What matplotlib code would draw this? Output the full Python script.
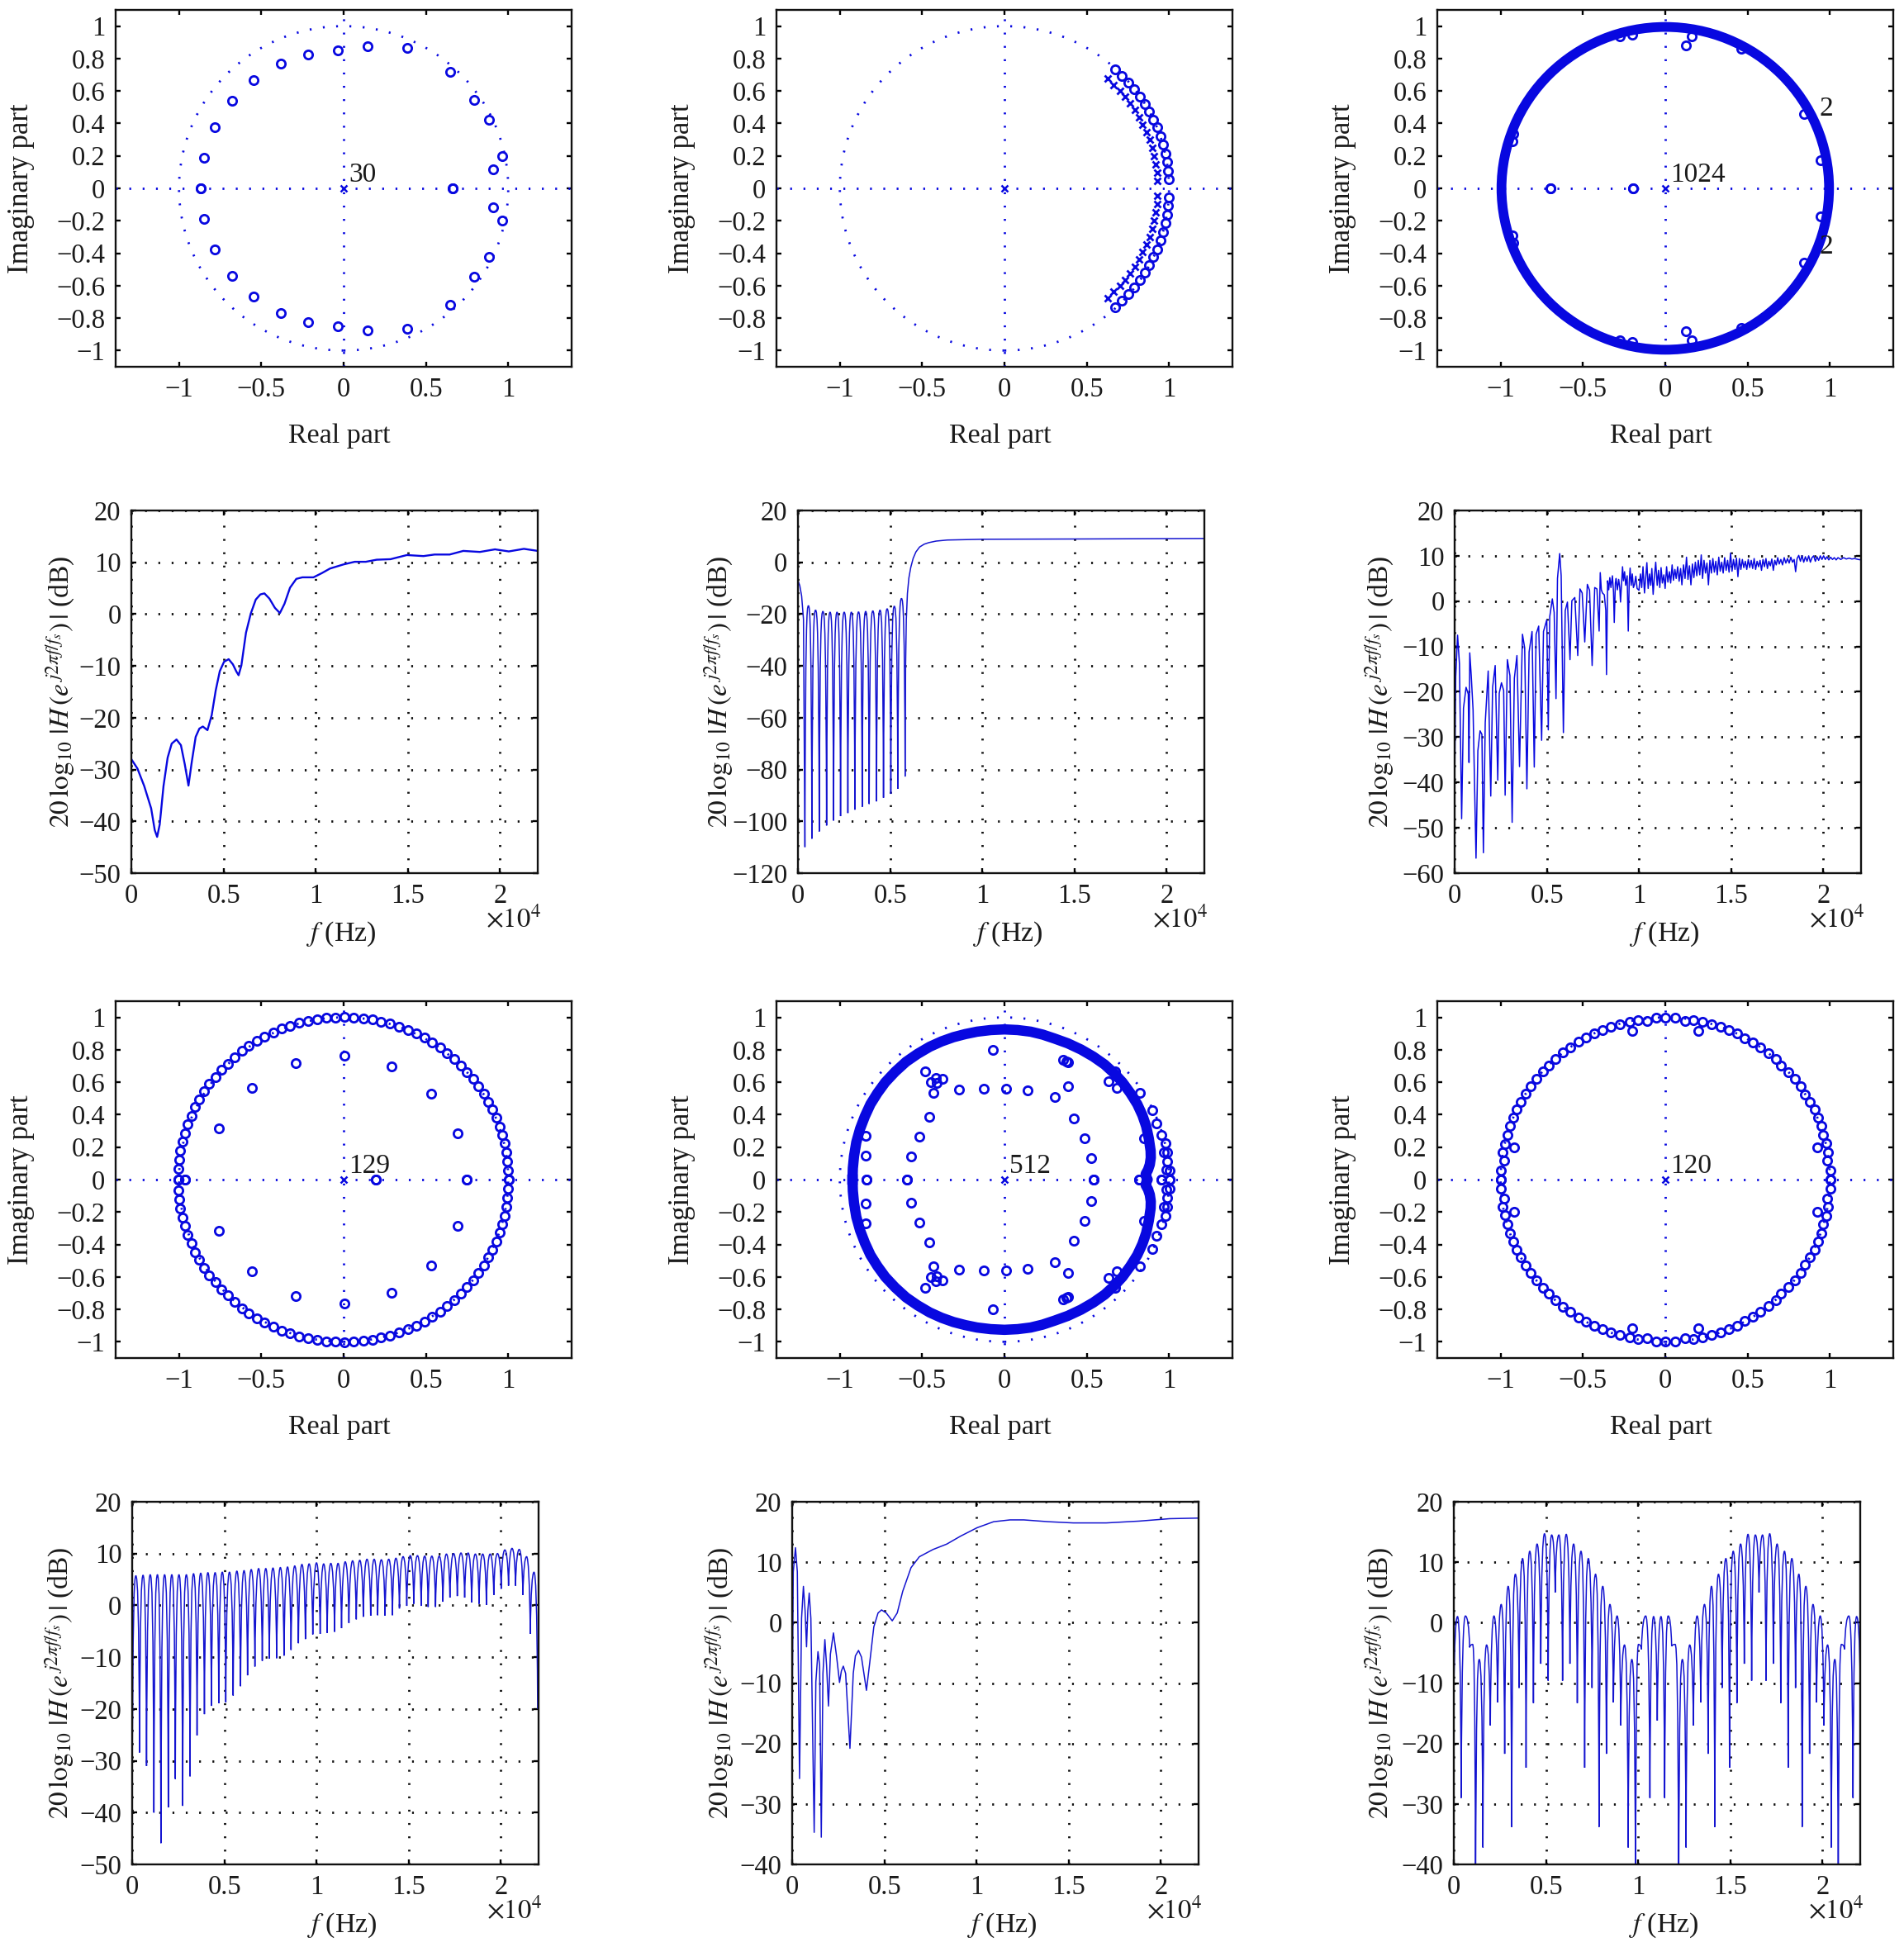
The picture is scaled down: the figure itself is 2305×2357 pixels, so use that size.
import numpy as np
import matplotlib
matplotlib.use("Agg")
import matplotlib.pyplot as plt
from matplotlib.patches import Ellipse, PathPatch
from matplotlib.path import Path

plt.rcParams['font.family'] = ['Liberation Serif', 'DejaVu Serif']
plt.rcParams['mathtext.fontset'] = 'stix'

BLUE = '#0808e0'
LINE_BLUE = '#1414d0'
TEXT = '#1a1a1a'
W, H = 2305, 2357

# pole-zero plots: upper half only, the lower half is the conjugate
p1_x = [0.144, 0.385, 0.649, 0.795, 0.883, 0.961, 0.907, 0.661, -0.037, -0.217, -0.38, -0.546, -0.678, -0.785, -0.849, -0.868]
p1_y = [0.875, 0.864, 0.717, 0.543, 0.422, 0.197, 0.118, 0.0, 0.851, 0.826, 0.77, 0.667, 0.54, 0.375, 0.19, 0.0]

p2_x = [0.674, 0.714, 0.755, 0.790, 0.823, 0.852, 0.879, 0.904, 0.926, 0.946, 0.965, 0.977, 0.987, 0.993, 0.997]
p2_y = [0.731, 0.691, 0.651, 0.610, 0.565, 0.520, 0.472, 0.423, 0.375, 0.321, 0.269, 0.216, 0.162, 0.107, 0.054]
p2_pole_x = [0.625, 0.664, 0.701, 0.733, 0.765, 0.793, 0.817, 0.840, 0.861, 0.881, 0.896, 0.906, 0.918, 0.926, 0.929]
p2_pole_y = [0.676, 0.637, 0.602, 0.564, 0.523, 0.482, 0.440, 0.393, 0.346, 0.299, 0.251, 0.199, 0.149, 0.099, 0.048]

p3_ring_r = 0.995
p3_x = [-0.696, -0.194, 0.124, 0.161, 0.843, 0.945, -0.203, -0.274, 0.461, -0.922, -0.928]
p3_y = [0.0, 0.0, 0.882, 0.939, 0.457, 0.173, 0.948, 0.939, 0.863, 0.338, 0.291]

p4_x = [1.003, 1.001, 0.995, 0.988, 0.979, 0.963, 0.947, 0.929, 0.903, 0.880, 0.851, 0.820, 0.787, 0.749, 0.711, 0.671, 0.628, 0.585, 0.538,
        0.490, 0.440, 0.389, 0.337, 0.282, 0.228, 0.174, 0.118, 0.062, 0.005, -0.051, -0.107, -0.161, -0.215, -0.270, -0.324, -0.378, -0.429,
        -0.480, -0.529, -0.576, -0.619, -0.664, -0.704, -0.744, -0.780, -0.816, -0.847, -0.876, -0.903, -0.925, -0.947, -0.965, -0.979, -0.992,
        -0.999, -1.003, -1.003,
        0.005, -0.291, -0.556, -0.760, 0.293, 0.534, 0.693, -0.961, 0.194, 0.748]
p4_y = [0.0, 0.056, 0.112, 0.168, 0.222, 0.276, 0.327, 0.380, 0.432, 0.480, 0.529, 0.575, 0.619, 0.663, 0.703, 0.744, 0.781, 0.815, 0.846,
        0.875, 0.900, 0.922, 0.944, 0.961, 0.975, 0.986, 0.995, 1.0, 1.002, 1.0, 0.997, 0.990, 0.980, 0.966, 0.949, 0.931, 0.907,
        0.883, 0.854, 0.824, 0.793, 0.754, 0.715, 0.676, 0.634, 0.590, 0.544, 0.495, 0.446, 0.393, 0.339, 0.286, 0.234, 0.180,
        0.124, 0.064, 0.0,
        0.763, 0.717, 0.563, 0.317, 0.697, 0.529, 0.285, 0.0, 0.0, 0.0]

p5_ring_x = [-0.923, -0.921, -0.914, -0.9, -0.877, -0.848, -0.814, -0.772, -0.724, -0.664, -0.598, -0.528, -0.454, -0.382, -0.31, -0.238, -0.166, -0.083, 0.0,
             0.08, 0.159, 0.232, 0.303, 0.385, 0.465, 0.54, 0.609, 0.667, 0.717, 0.765, 0.807, 0.838, 0.861, 0.877, 0.888, 0.889, 0.883, 0.872, 0.858, 0.862, 0.870]
p5_ring_y = [0.0, 0.07, 0.144, 0.23, 0.313, 0.39, 0.465, 0.533, 0.6, 0.665, 0.726, 0.775, 0.819, 0.852, 0.878, 0.897, 0.912, 0.922, 0.926,
             0.922, 0.912, 0.894, 0.870, 0.84, 0.802, 0.758, 0.709, 0.655, 0.6, 0.533, 0.465, 0.397, 0.329, 0.253, 0.177, 0.135, 0.093, 0.06, 0.034, 0.015, 0.0]
p5_x = [-0.072, 0.357, 0.384, 0.378, 0.672, 0.631, 0.681, 0.825, 0.897, 0.924, 0.955, 0.978, 0.969, 0.991, 0.991, 0.984, 1.004, 1.004, 0.951, 0.818,
        0.387, 0.305, 0.142, 0.009, -0.124, -0.274, -0.375, -0.418, -0.413, -0.445, -0.432, -0.481, -0.456, -0.515, -0.568, -0.591,
        0.420, 0.486, 0.528, 0.542, 0.847, -0.841, -0.843, -0.840]
p5_y = [0.801, 0.738, 0.721, 0.726, 0.667, 0.608, 0.566, 0.535, 0.427, 0.346, 0.277, 0.223, 0.169, 0.169, 0.110, 0.063, 0.056, 0.0, 0.0, 0.0,
        0.574, 0.507, 0.549, 0.561, 0.561, 0.557, 0.620, 0.625, 0.596, 0.600, 0.537, 0.667, 0.387, 0.265, 0.142, 0.0,
        0.377, 0.255, 0.130, 0.0, 0.253, 0.269, 0.147, 0.0]

p6_x = [1.002, 1.004, 0.984, 0.991, 0.980, 0.960, 0.946, 0.928, 0.906, 0.879, 0.850, 0.821, 0.787, 0.749, 0.704, 0.670, 0.625, 0.579, 0.532,
        0.484, 0.435, 0.384, 0.334, 0.280, 0.226, 0.171, 0.119, 0.058, 0.002, -0.056, -0.112, -0.166, -0.218, -0.274, -0.330, -0.381, -0.431,
        -0.480, -0.529, -0.576, -0.621, -0.666, -0.706, -0.745, -0.783, -0.818, -0.848, -0.877, -0.903, -0.924, -0.942, -0.960, -0.975, -0.987,
        -0.980, -0.998, -1.0,
        -0.199, 0.199, -0.917, 0.921]
p6_y = [0.0, 0.056, 0.115, 0.169, 0.223, 0.277, 0.329, 0.382, 0.431, 0.478, 0.527, 0.576, 0.620, 0.664, 0.701, 0.745, 0.780, 0.816, 0.845,
        0.873, 0.900, 0.924, 0.941, 0.956, 0.975, 0.985, 0.978, 0.997, 0.997, 0.997, 0.978, 0.985, 0.973, 0.956, 0.941, 0.924, 0.900,
        0.875, 0.848, 0.816, 0.782, 0.745, 0.703, 0.666, 0.620, 0.574, 0.529, 0.480, 0.431, 0.380, 0.331, 0.277, 0.221, 0.166,
        0.115, 0.056, 0.0,
        0.916, 0.916, 0.199, 0.199]

# frequency responses read as lines
r1_f = [0, 330, 700, 1075, 1270, 1400, 1540, 1745, 1970, 2190, 2450, 2690, 2900, 3100, 3280, 3490, 3690, 3880, 4130, 4360, 4580, 4800, 5030, 5280, 5510, 5700, 5820, 5970,
        6220, 6480, 6750, 7000, 7220, 7490, 7790, 8060, 8310, 8610, 8950, 9280, 9880, 10330, 10780, 11520, 12120, 12720, 13310, 14060, 14950, 15850, 16450, 17270, 18010, 18910, 19730, 20480, 21300, 22050]
r1_db = [-28, -29.8, -33.2, -37.5, -41.7, -43, -40.6, -33.2, -27.7, -25, -24.2, -25.3, -29, -33.1, -28.5, -23.7, -22.1, -21.7, -22.4, -19.5, -14.7, -11, -9.2, -8.7, -9.7, -11.1, -11.8, -9.9,
         -3.6, 0.1, 2.8, 3.8, 4, 3, 1.2, 0.2, 2, 5.1, 6.8, 7.1, 7.1, 7.9, 8.8, 9.6, 10.1, 10.1, 10.5, 10.6, 11.4, 11.2, 11.5, 11.5, 12.2, 12, 12.5, 12.1, 12.6, 12.2]

r3_f = [0, 60, 160, 260, 380, 480, 620, 740, 780, 820, 900, 1000, 1160, 1260, 1380, 1480, 1560, 1660, 1820, 1960, 2060, 2200, 2340, 2420, 2540, 2660, 2740, 2860, 3000, 3120, 3240, 3380, 3520, 3680, 3800, 3920,
        4040, 4200, 4320, 4420, 4560, 4720, 4820, 5000, 5080, 5160, 5300, 5400, 5500, 5580, 5700, 5780, 5900, 6000, 6120, 6260, 6360, 6520, 6680, 6800, 6920, 7060, 7200, 7320, 7460, 7600, 7720, 7840,
        7900, 7960, 8020, 8120, 8200, 8240, 8300, 8360, 8420, 8480, 8560, 8620, 8660, 8720, 8760, 8830, 8900, 8960, 9000, 9060, 9110, 9160, 9220, 9280, 9360, 9420, 9470, 9520, 9580, 9640, 9700, 9760, 9830, 9900, 10000,
        10080, 10150, 10220, 10300, 10360, 10430, 10500, 10570, 10640, 10700, 10770, 10840, 10910, 10990, 11060, 11130, 11200, 11270, 11350, 11420, 11500, 11570, 11650, 11720, 11800, 11870, 11950,
        12020, 12100, 12180, 12260, 12330, 12420, 12500, 12580, 12660, 12740, 12820, 12900, 12980, 13060, 13140, 13220, 13300, 13380, 13450, 13530, 13610, 13690, 13770, 13850, 13930,
        14010, 14090, 14170, 14250, 14330, 14410, 14490, 14570, 14650, 14730, 14810, 14890, 14970, 15050, 15130, 15210, 15290, 15370, 15450, 15530, 15610, 15690, 15770, 15850, 15930,
        16010, 16090, 16170, 16250, 16330, 16410, 16490, 16570, 16650, 16730, 16810, 16890, 16970, 17050, 17130, 17210, 17290, 17370, 17450, 17530, 17610, 17700, 17790, 17880, 17970,
        18060, 18150, 18240, 18330, 18420, 18500, 18580, 18670, 18760, 18850, 18940, 19030, 19120, 19210, 19300, 19390, 19480, 19570, 19660, 19750, 19840, 19930,
        20020, 20110, 20200, 20300, 20400, 20500, 20600, 20700, 20800, 20950, 21100, 21250, 21400, 21550, 21700, 21900, 22050]
r3_db = [-40, -16.6, -7.5, -13.8, -48, -23.6, -19, -20.5, -35.6, -11.4, -16.4, -24, -56.7, -33, -28.6, -29.4, -55.5, -26.8, -15.4, -43, -19, -14.2, -39.5, -20.3, -18, -19.7, -42.8, -12.9, -16.4, -48.8, -17, -12, -36.5, -7.3, -10.3, -41.4,
         -11.2, -6.7, -36.6, -7.3, -5.5, -30.7, -6.7, -4.1, -28.4, -3.4, 0.5, -2.5, -21.5, 5, 10.5, 5.6, -29, -2.1, -0.2, -12.9, 0.1, 0.8, -12, 2.7, 1.8, -9, 3.7, 2.4, -14.2, 3, 2.7, -6.6,
         6.3, 2.5, 1.8, 1.4, -2, -16.2, 4.5, 2.5, 5.2, 3, 5.6, 2, -4.7, 4, 5, 2.5, 4.8, 3, -0.2, 4, 7.6, 4.5, 6.5, 3.5, 5.6, -6.6, 4, 7.3, 3.5, 6, 3, 3.7, 5.5, 2.8, 2.4,
         6, 3, 7.6, 1.8, 5, 8.5, 2.8, 6, 3.5, 7.2, 1.5, 5.5, 8.6, 3.5, 6.8, 3, 7.4, 4, 5.8, 2.8, 7.6, 4.2, 6.5, 4, 8, 4.6, 7,
         5, 7.6, 4.4, 7.2, 3.6, 8, 5, 9.7, 4.8, 7.8, 3.6, 8.2, 5.2, 8.6, 5.6, 9, 5.8, 10.2, 5, 9, 6.2, 8.4, 3.6, 9, 6.2,
         9.4, 6.4, 8.8, 5.8, 9.7, 6.6, 8.6, 6.2, 9.6, 6.8, 9, 6.4, 10.6, 6.6, 9.2, 7, 9.5, 5.4, 9.4, 7, 9.2, 7.4, 8.8, 7, 9.2,
         7.4, 9, 7.2, 9.4, 7, 8.8, 7.6, 9, 6.8, 9.2, 7.6, 9.4, 7.2, 8.8, 7.8, 9.3, 6.8, 9, 8, 9.6, 8.2, 9.2, 8, 9.6, 8.4,
         9.4, 8.4, 9.7, 8.6, 9.2, 6.5, 9.4, 10.1, 8.8, 10, 8.6, 9.8, 8.8, 10, 8.6, 9.6, 10, 8.8, 9.8, 9, 10, 9.2,
         10, 9.2, 9.8, 9.1, 9.7, 9.2, 9.6, 9.1, 9.6, 9.2, 9.6, 9.3, 9.5, 9.3, 9.4, 9.2, 9.1]

r5_f = [0, 60, 180, 280, 400, 510, 610, 700, 780, 850, 925, 1015, 1195, 1285, 1400, 1490, 1580, 1670, 1775, 1865, 1970, 2075, 2240, 2415, 2570, 2670, 2775, 2900, 3135, 3315, 3430, 3600, 3760, 4030, 4210, 4430, 4660, 4850, 5105, 5430, 5700, 6000, 6450, 6900, 7640, 8390, 9130, 10030, 10930, 11820, 12570, 13900, 15250, 17040, 18830, 20480, 22050]
r5_db = [-15, 8.4, 12.4, 8.4, -25.8, 0.7, 6, 2, -4, 2, 4.9, 0.7, -34.7, -9.8, -4.8, -7, -35.5, -8.4, -2.8, -7, -13.8, -5.2, -1.7, -5.7, -9.9, -8, -7.2, -8.4, -20.8, -8.4, -5.5, -4.6, -5.7, -11.2, -6.6, -0.7, 1.6, 2.1, 1.6, 0.3, 1.6, 5.2, 9.1, 10.9, 12.1, 13, 14.3, 15.7, 16.7, 17, 17, 16.7, 16.5, 16.5, 16.8, 17.2, 17.3]

# comb shaped responses: notch frequencies and depths, and the peak of each lobe between two notches
r2_head_f = [0, 100, 200, 300, 378]
r2_head_db = [-7, -9, -13, -22, -109.8]
r2_notch_f = [378, 757, 1155, 1554, 1932, 2311, 2709, 3088, 3486, 3865, 4263, 4641, 5040, 5418, 5817]
r2_notch_db = [-109.8, -106.7, -103.9, -101.6, -99.7, -98, -96.8, -95.5, -94.4, -93.3, -92.3, -90.9, -89.4, -87.4, -82.5]
r2_peak_db = [-16.8, -18.5, -19, -19.3, -19.3, -19.3, -19.3, -19.2, -19, -18.8, -18.5, -18, -17, -14]
r2_tail_f = [5817, 5840, 5880, 5940, 6020, 6120, 6250, 6400, 6600, 6850, 7100, 7500, 8100, 10000, 15000, 22050]
r2_tail_db = [-82.5, -40, -22, -12, -6, -2, 1.5, 4, 5.9, 7, 7.6, 8.2, 8.6, 8.9, 9, 9.2]

r4_notch_f = [0, 400, 780, 1180, 1560, 1960, 2340, 2740, 3140, 3520, 3920, 4300, 4700, 5080, 5480, 5880, 6260, 6660, 7060, 7440, 7840, 8240, 8620, 9020, 9400, 9800, 10200, 10580, 10980, 11360,
              11760, 12160, 12540, 12940, 13320, 13720, 14120, 14500, 14900, 15280, 15680, 16060, 16460, 16860, 17240, 17640, 18040, 18420, 18820, 19220, 19620, 20020, 20420, 20800, 21200, 21600, 22000]
r4_notch_db = [-40, -28.4, -31, -40, -45.9, -39, -33.5, -38.7, -33, -25.1, -21, -19.4, -18.9, -18.7, -17.4, -15.6, -13.5, -11.8, -10.7, -10.3, -10.2, -9.7, -8.6, -7.3, -6.5, -5.6, -5.5, -5.3, -5.1, -4.4,
               -3.4, -2.7, -2.2, -2, -1.9, -2, -1.9, -0.6, -0.1, 0.3, -0.1, -0.3, -0.3, 0.7, 1.5, 1.8, 1.5, 0.6, 0.3, 0.1, 2, 3.2, 3.8, 3.8, 2, -5.5, -20]
r4_peak_db = [5.7, 5.8, 5.9, 5.9, 5.9, 5.9, 5.9, 5.9, 6.1, 6.2, 6.3, 6.3, 6.4, 6.4, 6.6, 6.7, 6.9, 7.1, 7.1, 7.2, 7.3, 7.4, 7.6, 7.9, 8, 8.2, 8, 8.1, 8.1,
              8.4, 8.6, 8.7, 8.9, 8.9, 8.8, 8.9, 9.1, 9.4, 9.6, 9.6, 9.5, 9.5, 9.5, 9.9, 10, 10.1, 10.1, 9.9, 9.9, 9.9, 10, 10.7, 11, 10.8, 9.4, 6.4]

r6_notch_f = [0, 400, 860, 1180, 1580, 1980, 2380, 2760, 3140, 3540, 3920, 4320, 4720, 5120, 5500, 5900, 6300, 6700, 7100, 7500, 7880, 8280, 8660, 9060, 9460, 9860, 10180, 10640, 11040, 11440,
              11820, 12200, 12600, 13000, 13400, 13800, 14160, 14560, 14960, 15360, 15760, 16160, 16560, 16940, 17340, 17740, 18140, 18540, 18900, 19300, 19680, 20080, 20480, 20860, 21200, 21660, 22050]
r6_notch_db = [-12, -29, -4.1, -46, -37.2, -17, -13.2, -21.7, -33.8, -10.8, -24, -13.3, -6.8, -9.6, 5, -9.6, -6.8, -13.3, -24, -10.8, -33.8, -21.7, -13.2, -17, -37.2, -46, -4.4, -29, -16.2, -29,
               -3.9, -46, -37.2, -17, -13.2, -21.7, -33.8, -10.8, -24, -13.3, -6.8, -9.6, 5, -9.6, -6.8, -13.3, -24, -10.8, -33.8, -21.7, -13.2, -17, -37.2, -46, -4.4, -29, -10]
r6_peak_db = [1.0, 1.1, -3.6, -6.1, -3.7, 1.1, 3, 6, 8, 10.6, 11.8, 13, 14.7, 14.5, 14.5, 14.6, 13, 11.8, 10.6, 8, 6, 3, 1.1, -3.7, -6.1, -3.6, 1.1, 1.0, 1, 1.1,
              -3.6, -6.1, -3.7, 1.1, 3, 6, 8, 10.6, 11.8, 13, 14.6, 14.5, 14.5, 14.7, 13, 11.8, 10.6, 8, 6, 3, 1.1, -3.7, -6.1, -3.6, 1.1, 1]

pz_xticks = [-1, -0.5, 0, 0.5, 1]
pz_xlabels = ['\u22121', '\u22120.5', '0', '0.5', '1']
pz_yticks = [-1, -0.8, -0.6, -0.4, -0.2, 0, 0.2, 0.4, 0.6, 0.8, 1]
pz_ylabels = ['\u22121', '\u22120.8', '\u22120.6', '\u22120.4', '\u22120.2', '0', '0.2', '0.4', '0.6', '0.8', '1']
f_ticks = [0, 5000, 10000, 15000, 20000]
f_labels = ['0', '0.5', '1', '1.5', '2']
DB_LABEL = r'$20\,\log_{10}\,|H\,(e^{\,j2\pi f/f_s})\,|$ (dB)'
DOTS = (0, (0.8, 5.0))


def make_axes(fig, x0, y0, w, h):
    ax = fig.add_axes([x0 / W, 1 - (y0 + h) / H, w / W, h / H])
    for s in ax.spines.values():
        s.set_linewidth(1.7)
        s.set_color('#111111')
    ax.tick_params(direction='in', top=True, right=True, length=4.5, width=1.7, labelsize=23.5, pad=9, labelcolor=TEXT)
    return ax


def pz_axes(fig, x0, y0, label):
    ax = make_axes(fig, x0, y0, 552, 432)
    ax.set_xlim(-1.385, 1.385)
    ax.set_ylim(-1.1, 1.1)
    ax.set_xticks(pz_xticks)
    ax.set_xticklabels(pz_xlabels)
    ax.set_yticks(pz_yticks)
    ax.set_yticklabels(pz_ylabels)
    ax.set_xlabel('Real part', fontsize=24.5, color=TEXT, va='center')
    ax.set_ylabel('Imaginary part', fontsize=25, color=TEXT, va='center')
    ax.xaxis.set_label_coords(0.49, -0.195)
    ax.yaxis.set_label_coords(-0.207, 0.5)
    ax.add_patch(Ellipse((0, 0), 2, 2, fill=False, ec=BLUE, lw=2, ls=DOTS))
    ax.plot([-1.385, 1.385], [0, 0], color=BLUE, lw=2, ls=DOTS)
    ax.plot([0, 0], [-1.1, 1.1], color=BLUE, lw=2, ls=DOTS)
    ax.plot([0], [0], 'x', color=BLUE, ms=5.5, mew=1.8)
    ax.text(0.03, 0.04, label, fontsize=24, color=TEXT, ha='left', va='baseline', zorder=6)
    return ax


def zeros(ax, x, y):
    x = np.array(x)
    y = np.array(y)
    ax.plot(np.r_[x, x], np.r_[y, -y], 'o', mfc='none', mec=BLUE, ms=7.4, mew=2, zorder=3)


def freq_axes(fig, x0, y0, ylim, ystep, label_x=-0.175):
    ax = make_axes(fig, x0, y0, 492, 439)
    ax.set_xlim(0, 22050)
    ax.set_ylim(*ylim)
    ax.set_xticks(f_ticks)
    ax.set_xticklabels(f_labels)
    yt = list(range(ylim[0], ylim[1] + 1, ystep))
    ax.set_yticks(yt)
    ax.set_yticklabels([str(v).replace('-', '\u2212') for v in yt])
    ax.grid(True, color='#111111', lw=2, ls=DOTS)
    ax.set_axisbelow(True)
    ax.set_xlabel(r'$f$ (Hz)', fontsize=24.5, color=TEXT, va='center')
    ax.set_ylabel(DB_LABEL, fontsize=24, color=TEXT, va='center')
    ax.xaxis.set_label_coords(0.517, -0.167)
    ax.yaxis.set_label_coords(label_x, 0.5)
    ax.text(1.008, -0.128, r'$\times 10^4$', transform=ax.transAxes, fontsize=23.5, color=TEXT, ha='right', va='center')
    return ax


def comb(ax, notch_f, notch_db, peak_db, lw=1.1):
    # lobes as curves: steep out of the notch, round on top
    verts = [(notch_f[0], notch_db[0])]
    codes = [Path.MOVETO]
    for i, p in enumerate(peak_db):
        f0, f1 = notch_f[i], notch_f[i + 1]
        d0, d1 = notch_db[i], notch_db[i + 1]
        w = f1 - f0
        a0 = min(5, 0.3 * (p - d0))
        a1 = min(5, 0.3 * (p - d1))
        verts += [(f0 + 0.08 * w, p - a0), (f0 + 0.28 * w, p), (f0 + 0.5 * w, p),
                  (f1 - 0.28 * w, p), (f1 - 0.08 * w, p - a1), (f1, d1)]
        codes += [Path.CURVE4] * 6
    ax.add_patch(PathPatch(Path(verts, codes), fill=False, ec=LINE_BLUE, lw=lw, joinstyle='miter'))


def main():
    fig = plt.figure(figsize=(W / 100, H / 100), dpi=100)

    # row 1
    ax = pz_axes(fig, 140, 12, '30')
    zeros(ax, p1_x, p1_y)

    ax = pz_axes(fig, 940, 12, '')
    zeros(ax, p2_x, p2_y)
    ax.plot(np.r_[p2_pole_x, p2_pole_x], np.r_[p2_pole_y, -np.array(p2_pole_y)], 'x', color=BLUE, ms=6, mew=2)

    ax = pz_axes(fig, 1740, 12, '1024')
    ax.add_patch(Ellipse((0, 0), 2 * p3_ring_r, 2 * p3_ring_r, fill=False, ec=BLUE, lw=8.5, zorder=3))
    zeros(ax, p3_x, p3_y)
    ax.text(0.977, 0.45, '2', fontsize=24, color=TEXT, ha='center', va='baseline', zorder=6)
    ax.text(0.977, -0.40, '2', fontsize=24, color=TEXT, ha='center', va='baseline', zorder=6)

    # row 2
    ax = freq_axes(fig, 159, 618, (-50, 20), 10)
    ax.plot(r1_f, r1_db, color=BLUE, lw=1.7)

    ax = freq_axes(fig, 966, 618, (-120, 20), 20, label_x=-0.196)
    ax.plot(r2_head_f, r2_head_db, color=LINE_BLUE, lw=1.1)
    comb(ax, r2_notch_f, r2_notch_db, r2_peak_db)
    ax.plot(r2_tail_f, r2_tail_db, color=LINE_BLUE, lw=1.1)

    ax = freq_axes(fig, 1761, 618, (-60, 20), 10, label_x=-0.185)
    ax.plot(r3_f, r3_db, color=BLUE, lw=1.1)

    # row 3
    ax = pz_axes(fig, 140, 1212, '129')
    zeros(ax, p4_x, p4_y)

    ax = pz_axes(fig, 940, 1212, '512')
    ax.plot(np.r_[p5_ring_x, p5_ring_x[::-1]], np.r_[p5_ring_y, -np.array(p5_ring_y[::-1])], color=BLUE, lw=9, zorder=3)
    zeros(ax, p5_x, p5_y)

    ax = pz_axes(fig, 1740, 1212, '120')
    zeros(ax, p6_x, p6_y)

    # row 4
    ax = freq_axes(fig, 160, 1818, (-50, 20), 10, label_x=-0.18)
    comb(ax, r4_notch_f, r4_notch_db, r4_peak_db)

    ax = freq_axes(fig, 959, 1818, (-40, 20), 10, label_x=-0.18)
    ax.plot(r5_f, r5_db, color=LINE_BLUE, lw=1.1)

    ax = freq_axes(fig, 1760, 1818, (-40, 20), 10, label_x=-0.183)
    comb(ax, r6_notch_f, r6_notch_db, r6_peak_db)

    fig.savefig('out.png', dpi=100, facecolor='white')


if __name__ == "__main__":
    main()
